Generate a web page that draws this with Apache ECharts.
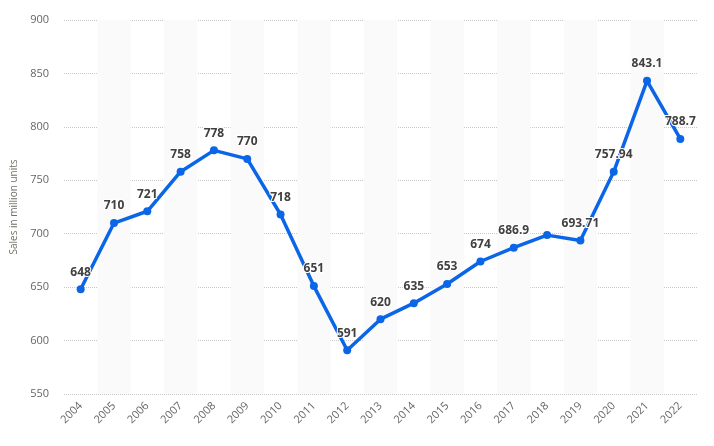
<!DOCTYPE html>
<html><head><meta charset="utf-8">
<script src="https://cdn.jsdelivr.net/npm/echarts@6/dist/echarts.min.js"></script>
<style>html,body{margin:0;padding:0;background:#fff}#c{width:714px;height:446px}</style>
</head><body><div id="c"></div>
<script>
const years = ['2004','2005','2006','2007','2008','2009','2010','2011','2012','2013','2014','2015','2016','2017','2018','2019','2020','2021','2022'];
const sales = [648, 710, 721, 758, 778, 770, 718, 651, 591, 620, 635, 653, 674, 686.9, 698.7, 693.71, 757.94, 843.1, 788.7];
const hiddenLabelYears = ['2018'];
const yTicks = {min: 550, max: 900, interval: 50};

const chart = echarts.init(document.getElementById('c'), null, {renderer: 'canvas'});
chart.setOption({
  animation: false,
  grid: {left: 64, right: 17, top: 20, bottom: 52},
  xAxis: {
    type: 'category', data: years, boundaryGap: true,
    axisLine: {show: false}, axisTick: {show: false},
    axisLabel: {rotate: 45, color: '#666', fontSize: 11, fontFamily: 'Open Sans', margin: 10},
    splitArea: {show: true, areaStyle: {color: ['rgba(255,255,255,0)', '#fafafa']}}
  },
  yAxis: {
    type: 'value', min: yTicks.min, max: yTicks.max, interval: yTicks.interval,
    name: 'Sales in million units', nameLocation: 'middle', nameGap: 39,
    nameTextStyle: {color: '#6b7266', fontSize: 10, fontFamily: 'Open Sans'},
    axisLine: {show: false}, axisTick: {show: false},
    axisLabel: {color: '#666', fontSize: 11, fontFamily: 'Open Sans', margin: 15},
    splitLine: {lineStyle: {color: '#c8c8c8', type: 'dotted', width: 1}}
  },
  series: [{
    type: 'line',
    data: sales.map((v, i) => ({value: v, label: {show: !hiddenLabelYears.includes(years[i])}})),
    lineStyle: {color: '#0a66e6', width: 3.5},
    itemStyle: {color: '#0a66e6'},
    symbol: 'circle', symbolSize: 8,
    label: {show: true, position: 'top', distance: 7, color: '#404040', fontSize: 12, fontWeight: 'bold',
      fontFamily: 'Open Sans', textBorderColor: '#fff', textBorderWidth: 2}
  }]
});
</script></body></html>
